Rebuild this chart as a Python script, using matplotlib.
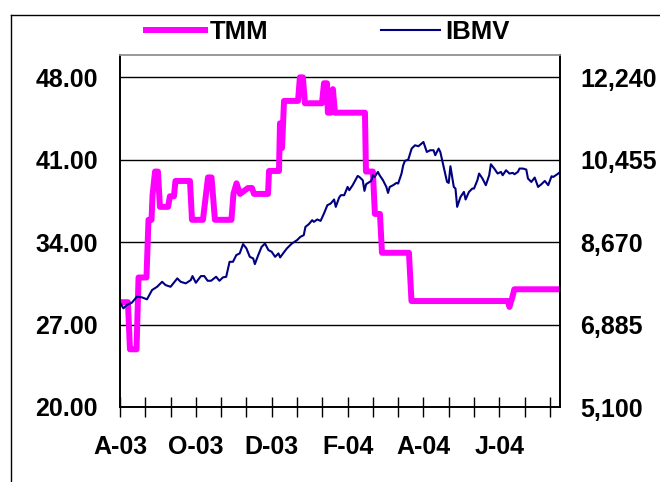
import numpy as np
import matplotlib.pyplot as plt
from matplotlib.lines import Line2D
from matplotlib.ticker import FuncFormatter, FixedLocator

plt.rcParams["font.family"] = ["Liberation Sans", "DejaVu Sans"]
plt.rcParams["font.weight"] = "bold"

# --- data (x = trading-day index from the start of the window) ---
tmm_day = [0, 4.7, 5.9, 9.8, 11, 15.7, 16.9, 18.7, 19.3, 20.8, 22.5, 23.7, 28.5,
           29.6, 32, 32.9, 41.5, 42.7, 49.2, 52.2, 54.3, 56.3, 66.1, 67.3, 69.1,
           71.2, 75.9, 78.3, 79.5, 87.8, 88.4, 94.3, 94.9, 96.1, 97.3, 105.6,
           106.7, 108.5, 109.7, 119.8, 121, 122.8, 123.3, 125.1, 126.3, 127.5,
           145.3, 145.9, 150, 151.2, 154.2, 155.4, 171.4, 172.9, 230.1, 231,
           232.5, 233.9, 261]
tmm_val = [28.9, 28.9, 24.9, 24.9, 31.0, 31.0, 35.9, 35.9, 38.0, 40.0, 40.0, 37.0,
           37.0, 37.9, 37.9, 39.2, 39.2, 35.9, 35.9, 39.5, 39.5, 35.9, 35.9, 38.1,
           39.0, 38.1, 38.6, 38.6, 38.1, 38.1, 40.05, 40.05, 44.1, 42.0, 46.0,
           46.0, 48.0, 48.0, 45.8, 45.8, 47.5, 47.5, 45.0, 45.0, 47.0, 45.0, 45.0,
           40.0, 40.0, 36.4, 36.4, 33.1, 33.1, 29.0, 29.0, 28.5, 29.2, 30.0, 30.0]

ibmv_day = [0, 2, 4, 7, 10, 13, 16, 19, 22, 25, 27, 30, 34, 36, 39, 42, 43, 45,
            48, 50, 52, 54, 57, 59, 61, 63, 65, 67, 69, 71, 73, 75, 77, 79, 80,
            82, 84, 86, 88, 90, 92, 94, 95, 97, 99, 102, 105, 107, 109, 110, 112,
            114, 115, 117, 119, 121, 123, 125, 127, 128, 130, 131, 133, 135, 136,
            138, 141, 142, 144, 145, 146, 149, 150, 151, 153, 154, 156, 158, 159,
            160, 162, 164, 165, 167, 168, 169, 171, 173, 175, 177, 180, 182, 184,
            186, 187, 189, 190, 192, 194, 195, 196, 198, 199, 200, 202, 204, 205,
            207, 209, 210, 212, 213, 215, 217, 219, 220, 222, 224, 226, 227, 229,
            231, 233, 234, 236, 237, 239, 241, 242, 244, 246, 248, 250, 252, 254,
            256, 257, 260, 261]
ibmv_val = [7358, 7237, 7308, 7358, 7488, 7475, 7432, 7633, 7704, 7812, 7741,
            7704, 7886, 7812, 7778, 7849, 7936, 7791, 7936, 7936, 7834, 7834,
            7921, 7834, 7907, 7921, 8245, 8245, 8390, 8427, 8628, 8535, 8353,
            8318, 8195, 8390, 8569, 8640, 8500, 8461, 8353, 8427, 8340, 8440,
            8535, 8643, 8714, 8786, 8822, 9002, 9060, 9147, 9110, 9162, 9132,
            9292, 9471, 9508, 9595, 9435, 9638, 9688, 9688, 9867, 9796, 9904,
            10105, 10083, 10012, 9781, 9926, 9997, 10120, 10083, 10192, 10120,
            10012, 9867, 9737, 9867, 9904, 9954, 9940, 10157, 10337, 10430,
            10460, 10698, 10769, 10748, 10840, 10624, 10661, 10661, 10553,
            10698, 10624, 10300, 9975, 9954, 10315, 9867, 9832, 9435, 9651,
            9759, 9595, 9759, 9832, 9832, 10012, 10157, 10049, 9904, 10120,
            10358, 10265, 10157, 10192, 10120, 10228, 10157, 10171, 10142,
            10192, 10265, 10265, 10243, 10049, 9975, 10070, 9867, 9926, 9997,
            9904, 10098, 10083, 10157, 10192]

label_days = [0, 45, 90, 135, 180, 225]
label_text = ["A-03", "O-03", "D-03", "F-04", "A-04", "J-04"]
left_ticks = [20.0, 27.0, 34.0, 41.0, 48.0]

fig = plt.figure(figsize=(6.6, 4.82), dpi=100)
ax = fig.add_axes([120 / 660, 1 - 407 / 482, 440 / 660, 352 / 482])
ax2 = ax.twinx()

ax.plot(tmm_day, tmm_val, color="#FF00FF", lw=4.3, solid_joinstyle="round",
        label="TMM")
ax2.plot(ibmv_day, ibmv_val, color="#000080", lw=1.5, label="IBMV")

# left axis 20..48 with head room, right axis mapped linearly onto it
ytop = 49.9
ax.set_ylim(20, ytop)
ax.set_yticks(left_ticks)
ax.yaxis.set_major_formatter(FuncFormatter(lambda v, p: f"{v:.2f}"))
to_right = lambda v: 5100 + (v - 20) * 255
ax2.set_ylim(to_right(20), to_right(ytop))
ax2.set_yticks([to_right(v) for v in left_ticks])
ax2.yaxis.set_major_formatter(FuncFormatter(lambda v, p: f"{v:,.0f}"))

ax.set_xlim(0, 261)
ax.set_xticks(label_days)
ax.set_xticklabels(label_text)
ax.xaxis.set_minor_locator(FixedLocator(np.arange(0, 261, 15)))

ax.grid(axis="y", color="black", lw=1)
ax.set_axisbelow(True)

ax.tick_params(axis="y", length=0, labelsize=18, pad=16)
ax2.tick_params(axis="y", length=0, labelsize=18, pad=14.4)
ax.tick_params(axis="x", which="both", direction="inout", length=15,
               width=1, labelsize=18, pad=13)

for a in (ax, ax2):
    for s in a.spines.values():
        s.set_color("black")
        s.set_linewidth(1.2)
    a.spines["top"].set_color("#999999")

fig.legend(loc="center left", bbox_to_anchor=(146 / 660, 1 - 32 / 482),
           ncol=2, frameon=False, fontsize=18.5, handlelength=2.3,
           handletextpad=0.2, columnspacing=4.35, borderpad=0,
           borderaxespad=0)

# outer chart border (cropped on the right and bottom)
fig.add_artist(Line2D([11 / 660, 11 / 660], [0, 1 - 15 / 482], color="black",
                      lw=1, transform=fig.transFigure))
fig.add_artist(Line2D([11 / 660, 1], [1 - 15 / 482, 1 - 15 / 482],
                      color="black", lw=1, transform=fig.transFigure))

fig.savefig("out.png", dpi=100)
